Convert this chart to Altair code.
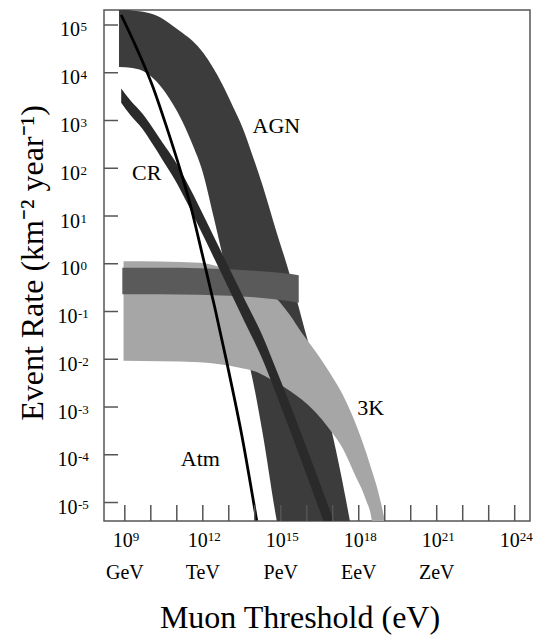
import altair as alt
import pandas as pd

FONT = "Liberation Serif"

# ---- data (log10 of muon threshold in eV, log10 of event rate in km^-2 yr^-1) ----
agn_x = [8.777, 9.297, 9.836, 10.337, 10.799, 11.223, 11.608, 11.993, 12.378, 12.763, 13.149, 13.534,
         13.919, 14.304, 14.844, 15.267, 15.614, 15.922, 16.269, 16.616, 16.962, 17.309, 17.657]
agn_hi = [5.335, 5.303, 5.262, 5.167, 5.000, 4.833, 4.665, 4.435, 4.121, 3.745, 3.305, 2.845,
          2.259, 1.632, 0.649, -0.084, -0.753, -1.381, -2.050, -2.741, -3.515, -4.393, -5.377]
agn_lo = [4.121, 4.100, 3.996, 3.745, 3.389, 2.971, 2.490, 1.925, 1.067, 0.167, -0.732, -1.569,
          -2.427, -3.556, -5.377, -6.5, -6.5, -6.5, -6.5, -6.5, -6.5, -6.5, -6.5]

cr_x = [8.861, 9.220, 9.682, 10.067, 10.452, 10.914, 11.415, 11.877, 12.455, 13.033, 13.649, 14.266,
        14.882, 15.537, 16.153, 16.693, 17.117]
cr_hi = [3.672, 3.418, 3.140, 2.849, 2.533, 2.165, 1.674, 1.180, 0.533, -0.111, -0.791, -1.469,
         -2.293, -3.197, -4.086, -4.874, -5.496]
cr_lo = [3.370, 3.109, 2.822, 2.506, 2.174, 1.768, 1.255, 0.745, 0.094, -0.559, -1.259, -1.962,
         -2.812, -3.749, -4.659, -5.460, -6.094]

k3_x = [8.950, 10.337, 11.877, 12.648, 13.418, 13.919, 14.574, 15.344, 15.807, 16.346, 16.885, 17.386,
        17.848, 18.271, 18.503, 18.695, 18.850, 19.004]
k3_hi = [0.052, 0.048, 0.021, -0.063, -0.199, -0.335, -0.586, -1.067, -1.444, -1.841, -2.280, -2.741,
         -3.305, -3.933, -4.331, -4.665, -5.000, -5.377]
k3_lo = [-2.029, -2.040, -2.061, -2.103, -2.176, -2.238, -2.406, -2.657, -2.845, -3.117, -3.473, -3.870,
         -4.414, -4.937, -5.377, -6.5, -6.5, -6.5]

mid_x = [8.904, 10.337, 11.877, 13.033, 13.996, 14.767, 15.344, 15.691]
mid_hi = [-0.084, -0.084, -0.094, -0.115, -0.146, -0.178, -0.209, -0.241]
mid_lo = [-0.638, -0.638, -0.649, -0.669, -0.701, -0.743, -0.785, -0.816]

atm_x = [8.861, 9.451, 10.067, 10.606, 11.107, 11.531, 11.993, 12.455, 12.918, 13.495, 14.073]
atm_y = [5.209, 4.519, 3.724, 2.866, 2.008, 1.213, 0.167, -0.900, -2.050, -3.577, -5.377]

ann_text = ["AGN", "CR", "Atm", "3K"]
ann_x = [14.832, 9.844, 11.908, 18.457]
ann_y = [2.891, 1.893, -4.079, -3.019]

x_tick_exps = list(range(9, 25))
y_tick_exps = list(range(-5, 6))
x_label_exps = [9, 12, 15, 18, 21, 24]
x_label_units = ["GeV", "TeV", "PeV", "EeV", "ZeV", ""]
y_label_exps = list(range(-5, 6))

x_title = "Muon Threshold (eV)"
y_title = "Event Rate (km⁻² year⁻¹)"

x_domain_exp = [8.199, 24.589]
y_domain_exp = [-5.387, 5.314]

# ---- helpers ----
W, H = 426, 511
FRAME = "#555555"
BASE = 20   # tick-label font size
EXP = 13    # exponent font size


def band(xs, hi, lo):
    return pd.DataFrame({"x": [10.0 ** v for v in xs],
                         "hi": [10.0 ** v for v in hi],
                         "lo": [10.0 ** v for v in lo]})


xs = alt.Scale(type="log", domain=[10.0 ** v for v in x_domain_exp], nice=False)
ys = alt.Scale(type="log", domain=[10.0 ** v for v in y_domain_exp], nice=False)


def X(field="x"):
    return alt.X(f"{field}:Q", scale=xs, axis=None)


def Y(field="y"):
    return alt.Y(f"{field}:Q", scale=ys, axis=None)


def area(df, color):
    return alt.Chart(df).mark_area(color=color, clip=True, interpolate="monotone").encode(
        x=X(), y=Y("hi"), y2="lo:Q")


def txt(df, size, align, **kw):
    return alt.Chart(df).mark_text(font=FONT, fontSize=size, color="black", align=align,
                                   baseline="alphabetic", **kw)


agn = area(band(agn_x, agn_hi, agn_lo), "#3c3c3c")
k3 = area(band(k3_x, k3_hi, k3_lo), "#a6a6a6")
mid = area(band(mid_x, mid_hi, mid_lo), "#5a5a5a")
cr = area(band(cr_x, cr_hi, cr_lo), "#2a2a2a")

atm_df = pd.DataFrame({"x": [10.0 ** v for v in atm_x], "y": [10.0 ** v for v in atm_y]})
atm = alt.Chart(atm_df).mark_line(color="black", strokeWidth=2.8, clip=True,
                                  interpolate="monotone").encode(x=X(), y=Y())

ann_df = pd.DataFrame({"x": [10.0 ** v for v in ann_x], "y": [10.0 ** v for v in ann_y], "t": ann_text})
ann = alt.Chart(ann_df).mark_text(font=FONT, fontSize=22, color="black", align="center",
                                  baseline="middle").encode(x=X(), y=Y(), text="t:N")

# ticks (inside the frame)
xt_df = pd.DataFrame({"x": [10.0 ** e for e in x_tick_exps]})
xt = alt.Chart(xt_df).mark_rule(color=FRAME, strokeWidth=1.5).encode(
    x=X(), y=alt.value(H), y2=alt.value(H - 16))
yt_df = pd.DataFrame({"y": [10.0 ** e for e in y_tick_exps]})
yt = alt.Chart(yt_df).mark_rule(color=FRAME, strokeWidth=1.5).encode(
    y=Y(), x=alt.value(0), x2=alt.value(14))

# x tick labels: "10" + raised exponent, unit row below
xl_df = pd.DataFrame({"x": [10.0 ** e for e in x_label_exps],
                      "b": ["10"] * len(x_label_exps),
                      "e": [str(e) for e in x_label_exps],
                      "u": x_label_units,
                      "n": [len(str(e)) for e in x_label_exps]})
x_layers = []
for n, dx in [(1, 8), (2, 5)]:
    d = xl_df[xl_df["n"] == n]
    x_layers.append(txt(d, BASE, "right", dx=dx).encode(x=X(), y=alt.value(H + 26), text="b:N"))
    x_layers.append(txt(d, EXP, "left", dx=dx).encode(x=X(), y=alt.value(H + 20), text="e:N"))
xu = txt(xl_df, BASE, "center").encode(x=X(), y=alt.value(H + 58), text="u:N")

# y tick labels
yl_df = pd.DataFrame({"y": [10.0 ** e for e in y_label_exps],
                      "b": ["10"] * len(y_label_exps),
                      "e": [str(e) for e in y_label_exps],
                      "neg": [e < 0 for e in y_label_exps]})
y_layers = []
for neg, xb in [(False, -24), (True, -26.5)]:
    d = yl_df[yl_df["neg"] == neg]
    y_layers.append(txt(d, BASE, "right", dy=11.5).encode(y=Y(), x=alt.value(xb), text="b:N"))
    y_layers.append(txt(d, EXP, "left", dy=6.5).encode(y=Y(), x=alt.value(xb + 0.5), text="e:N"))

# axis titles
tx_df = pd.DataFrame({"t": [x_title]})
tx = txt(tx_df, 32, "center").encode(x=alt.value(196), y=alt.value(H + 107), text="t:N")
ty_df = pd.DataFrame({"t": [y_title]})
ty = txt(ty_df, 32, "center", angle=270).encode(x=alt.value(-61), y=alt.value(253), text="t:N")

chart = alt.layer(agn, k3, mid, cr, atm, xt, yt, ann, *x_layers, xu, *y_layers, tx, ty).properties(
    width=W, height=H,
    padding={"left": 104, "top": 10, "right": 3, "bottom": 115},
    autosize=alt.AutoSizeParams(type="none"),
    background="white",
).configure_view(stroke=FRAME, strokeWidth=1.5)

chart.save("out.html", embed_options={"renderer": "svg", "actions": False})
